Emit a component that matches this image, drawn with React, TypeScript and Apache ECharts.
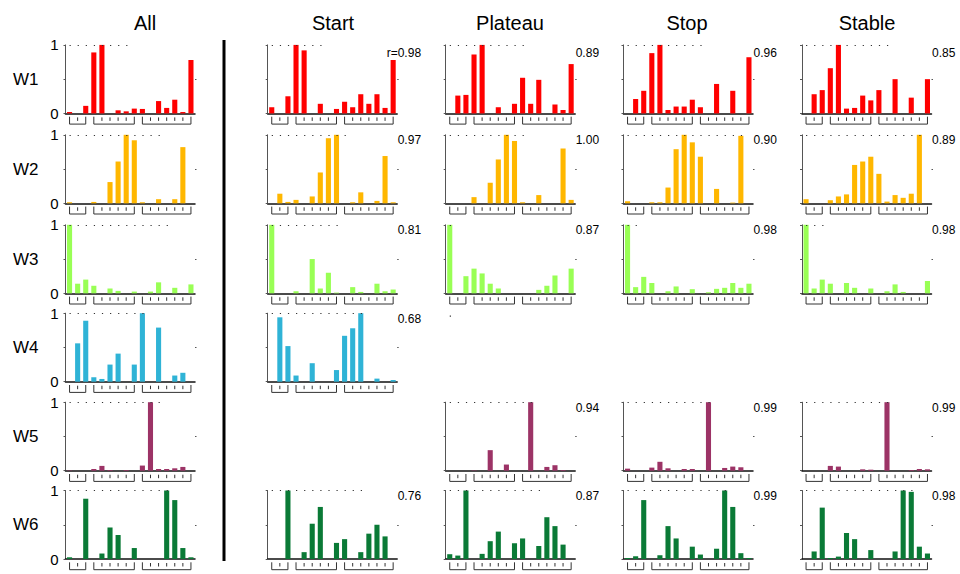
import React, { useEffect, useRef } from 'react';
import * as echarts from 'echarts';

const categories = ['s1','s2','s3','s4','s5','s6','s7','s8','s9','s10','s11','s12','s13','s14','s15','s16'];
const columnTitles = ['All', 'Start', 'Plateau', 'Stop', 'Stable'];
const rowLabels = ['W1', 'W2', 'W3', 'W4', 'W5', 'W6'];
const rowColors = ['#ff0000', '#ffb700', '#99ff55', '#2fb3d6', '#9c3366', '#0a7a36'];
const yTickLabels = ['0', '1'];

// All
const allW1 = [0.02,0,0.11,0.89,1.0,0,0.045,0.03,0.07,0.065,0,0.18,0.08,0.2,0.02,0.78];
const allW2 = [0.015,0,0,0.02,0,0.31,0.61,1.0,0.92,0.015,0,0.06,0,0.06,0.82,0];
const allW3 = [1.0,0.14,0.2,0.11,0,0.07,0.035,0,0.025,0,0.025,0.16,0,0.08,0,0.13];
const allW4 = [0,0.56,0.89,0.065,0.04,0.25,0.41,0,0.25,1.0,0,0.79,0,0.09,0.13,0];
const allW5 = [0.005,0,0,0.025,0.07,0.01,0,0.01,0,0.075,1.0,0.025,0.025,0.035,0.055,0];
const allW6 = [0.025,0,0.88,0,0.08,0.46,0.35,0,0.16,0,0,0,1.0,0.86,0.16,0.025];
// Start
const startW1 = [0.09,0,0.25,1.0,0.92,0,0.14,0,0.065,0.17,0.09,0.28,0.14,0.28,0.08,0.78];
const startW2 = [0,0.14,0.02,0.05,0,0.1,0.45,0.95,1.0,0,0.015,0.16,0,0.035,0.69,0.015];
const startW3 = [1.0,0,0,0.03,0,0.5,0.07,0.3,0.01,0,0.09,0.02,0,0.14,0.03,0.055];
const startW4 = [0,0.94,0.52,0.09,0,0.27,0,0,0.17,0.67,0.78,1.0,0,0.045,0,0.025];
const startW6 = [0,0,1.0,0,0.1,0.515,0.76,0,0.235,0.29,0,0.1,0.37,0.5,0.33,0];
// Plateau
const plateauW1 = [0,0.26,0.27,0.86,1.0,0,0.09,0,0.14,0.52,0.14,0.49,0,0.13,0.05,0.72];
const plateauW2 = [0,0,0,0.09,0,0.3,0.64,1.0,0.91,0.015,0,0.12,0,0,0.8,0.05];
const plateauW3 = [1.0,0,0.25,0.36,0.29,0.14,0.07,0,0,0,0,0.05,0.11,0.26,0,0.36];
const plateauW5 = [0,0,0,0.005,0,0.3,0,0.09,0,0,1.0,0,0.055,0.08,0.01,0];
const plateauW6 = [0.07,0.05,1.0,0,0.075,0.26,0.4,0,0.23,0.3,0,0.19,0.61,0.48,0.21,0];
// Stop
const stopW1 = [0,0.21,0.33,0.88,1.0,0.05,0.1,0.1,0.2,0.09,0,0.43,0,0.33,0,0.82];
const stopW2 = [0.03,0,0,0.015,0.015,0.23,0.79,1.0,0.89,0.68,0,0.21,0,0.01,0.985,0];
const stopW3 = [1.0,0.09,0.24,0.15,0,0.03,0.1,0,0.06,0,0.015,0.065,0.08,0.15,0.08,0.14];
const stopW5 = [0.03,0,0,0.045,0.13,0.035,0,0.025,0.025,0,1.0,0,0.04,0.06,0.05,0];
const stopW6 = [0.015,0.04,0.86,0,0.055,0.48,0.3,0,0.18,0.065,0,0.15,1.0,0.76,0.085,0.015];
// Stable
const stableW1 = [0,0.28,0.34,0.66,1.0,0.07,0.08,0.26,0.19,0.34,0,0.5,0,0.23,0,0.5];
const stableW2 = [0.06,0,0,0.045,0.1,0.13,0.56,0.61,0.68,0.43,0.025,0.12,0.08,0.14,1.0,0];
const stableW3 = [1.0,0.07,0.2,0.14,0,0.15,0.08,0,0.07,0,0.03,0.13,0.02,0,0,0.18];
const stableW5 = [0,0,0,0.07,0.06,0,0,0.02,0.015,0,1.0,0,0,0.01,0.025,0.02];
const stableW6 = [0,0.11,0.75,0.015,0.035,0.38,0.29,0,0.13,0,0,0.11,1.0,0.98,0.18,0.08];

const panelData: (number[] | null)[][] = [
  [allW1, allW2, allW3, allW4, allW5, allW6],
  [startW1, startW2, startW3, startW4, null, startW6],
  [plateauW1, plateauW2, plateauW3, null, plateauW5, plateauW6],
  [stopW1, stopW2, stopW3, null, stopW5, stopW6],
  [stableW1, stableW2, stableW3, null, stableW5, stableW6],
];

const rStart = ['0.98', '0.97', '0.81', '0.68', '', '0.76'];
const rPlateau = ['0.89', '1.00', '0.87', '', '0.94', '0.87'];
const rStop = ['0.96', '0.90', '0.98', '', '0.99', '0.99'];
const rStable = ['0.85', '0.89', '0.98', '', '0.99', '0.98'];
const rTexts = [['', '', '', '', '', ''], rStart, rPlateau, rStop, rStable];

// number of dots in the dotted top border of each panel (style)
const dotCounts = [
  [9, 13, 14, 11, 13, 14],
  [8, 11, 10, 13, 0, 13],
  [11, 11, 2, 0, 12, 13],
  [11, 16, 3, 0, 12, 14],
  [12, 16, 4, 0, 12, 15],
];

const bracketGroups = [[1, 3], [4, 9], [10, 16]];

// layout
const colLeft = [65.5, 267.7, 445.7, 623.5, 802];
const colTitleX = [145, 333, 510, 687, 867];
const panelW = 129.5;
const rowBottom = [113.4, 203.3, 293.3, 381.7, 470.7, 559];
const panelH = 68.5;
const FONT = '"Liberation Sans", Arial, Helvetica, sans-serif';

export default function App() {
  const ref = useRef<HTMLDivElement>(null);
  useEffect(() => {
    const chart = echarts.init(ref.current!, null, { renderer: 'svg' });
    const grids: any[] = [];
    const xAxes: any[] = [];
    const yAxes: any[] = [];
    const series: any[] = [];
    const graphics: any[] = [];
    let gi = 0;
    const slotW = panelW / categories.length;

    for (let c = 0; c < panelData.length; c++) {
      for (let r = 0; r < rowLabels.length; r++) {
        const d = panelData[c][r];
        if (!d) continue;
        const left = colLeft[c];
        const top = rowBottom[r] - panelH;
        grids.push({ left, top, width: panelW, height: panelH, containLabel: false });
        xAxes.push({
          gridIndex: gi, type: 'category', data: categories, boundaryGap: true,
          axisLine: { show: true, onZero: false, lineStyle: { color: '#111', width: 1.5 } },
          axisTick: { show: false }, axisLabel: { show: false }, splitLine: { show: false },
        });
        const leftY = yAxes.length;
        yAxes.push({
          gridIndex: gi, type: 'value', min: 0, max: 1, interval: 0.5,
          axisLine: { show: true, lineStyle: { color: '#555', width: 1 } },
          axisTick: { show: true, length: 2, lineStyle: { color: '#555' } },
          axisLabel: {
            show: c === 0, fontSize: 15, color: '#000', fontFamily: FONT, margin: 7,
            padding: [7, 0, 0, 0],
            formatter: (v: number) => (v === 0 ? yTickLabels[0] : v === 1 ? yTickLabels[1] : ''),
          },
          splitLine: { show: false },
        });
        yAxes.push({
          gridIndex: gi, type: 'value', min: 0, max: 1, position: 'right',
          axisLine: { show: false },
          axisTick: { show: true, length: 1.5, customValues: [0.5], lineStyle: { color: '#555' } },
          axisLabel: { show: false }, splitLine: { show: false },
        });
        const dots = dotCounts[c][r];
        series.push({
          type: 'bar', xAxisIndex: gi, yAxisIndex: leftY, data: d,
          barCategoryGap: '37%', itemStyle: { color: rowColors[r] },
          silent: true,
          markLine: dots > 0 ? {
            silent: true, symbol: 'none', label: { show: false },
            lineStyle: { type: [1.2, slotW - 1.2], color: '#333', width: 1.2 },
            emphasis: { disabled: true },
            data: [[{ coord: [0, 1] }, { coord: [dots - 1, 1] }]],
          } : undefined,
        });
        // brackets
        const y0 = rowBottom[r];
        const cx = (k: number) => left + (k - 0.5) * slotW;
        bracketGroups.forEach(([s, e]) => {
          graphics.push({
            type: 'polyline', silent: true,
            shape: { points: [[cx(s), y0 + 3.3], [cx(s), y0 + 10.7], [cx(e), y0 + 10.7], [cx(e), y0 + 3.3]] },
            style: { stroke: '#333', fill: null, lineWidth: 1 },
          });
          for (let k = s + 1; k < e; k++) {
            graphics.push({
              type: 'line', silent: true,
              shape: { x1: cx(k), y1: y0 + 4, x2: cx(k), y2: y0 + 7.5 },
              style: { stroke: '#333', lineWidth: 1 },
            });
          }
        });
        // r values
        const rt = rTexts[c][r];
        if (rt) {
          const ry = top + (r === 0 ? 8.5 : 5.5);
          graphics.push({
            type: 'text', silent: true, x: left + panelW + 0.5, y: ry,
            style: { text: rt, fontSize: 12, fontFamily: FONT, fill: '#000', align: 'left', verticalAlign: 'middle', textAlign: 'left', textVerticalAlign: 'middle' },
          });
          if (c === 1 && r === 0) {
            graphics.push({
              type: 'text', silent: true, x: left + panelW + 0.5, y: ry,
              style: { text: 'r=', fontSize: 12, fontFamily: FONT, fill: '#000', align: 'right', verticalAlign: 'middle', textAlign: 'right', textVerticalAlign: 'middle' },
            });
          }
        }
        gi++;
      }
    }

    // stray dotted-border remnant above the empty Plateau W4 panel
    {
      const cx = (k: number) => colLeft[2] + (k - 0.5) * slotW;
      const yTop = rowBottom[3] - panelH + 3;
      graphics.push({
        type: 'line', silent: true,
        shape: { x1: cx(1), y1: yTop, x2: cx(2), y2: yTop },
        style: { stroke: '#333', lineWidth: 1.2, lineDash: [1.2, slotW - 1.2] },
      });
    }

    columnTitles.forEach((t, c) => {
      graphics.push({
        type: 'text', silent: true, x: colTitleX[c], y: 23,
        style: { text: t, fontSize: 20, fontFamily: FONT, fill: '#000', align: 'center', verticalAlign: 'middle', textAlign: 'center', textVerticalAlign: 'middle' },
      });
    });
    rowLabels.forEach((t, r) => {
      graphics.push({
        type: 'text', silent: true, x: 13, y: rowBottom[r] - panelH / 2,
        style: { text: t, fontSize: 17, fontFamily: FONT, fill: '#000', align: 'left', verticalAlign: 'middle', textAlign: 'left', textVerticalAlign: 'middle' },
      });
    });
    graphics.push({
      type: 'line', silent: true,
      shape: { x1: 224, y1: 40, x2: 224, y2: 561 },
      style: { stroke: '#000', lineWidth: 3 },
    });

    chart.setOption({
      animation: false,
      backgroundColor: '#ffffff',
      grid: grids,
      xAxis: xAxes,
      yAxis: yAxes,
      series,
      graphic: graphics,
    });
    return () => chart.dispose();
  }, []);
  return <div ref={ref} style={{ position: 'absolute', left: 0, top: 0, width: 960, height: 574 }} />;
}
